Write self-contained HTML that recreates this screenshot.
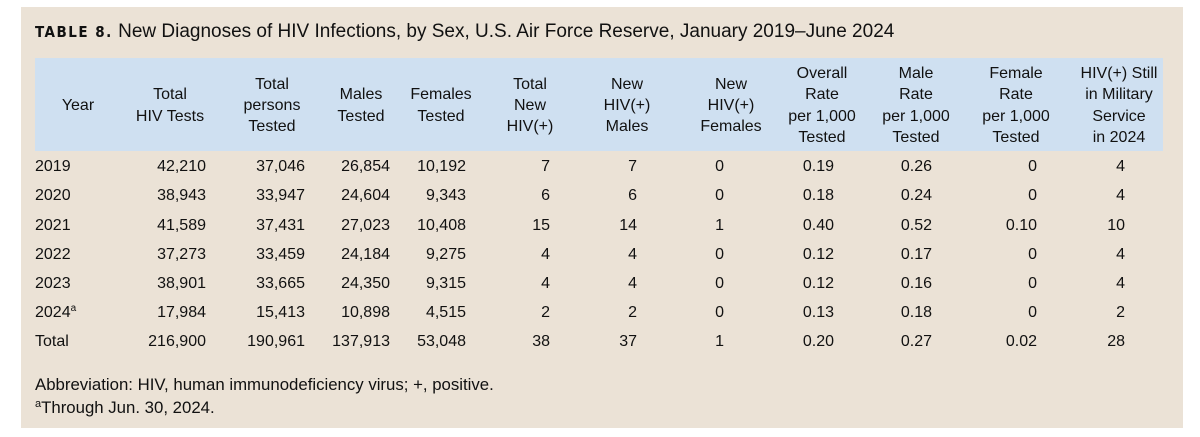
<!DOCTYPE html>
<html><head><meta charset="utf-8"><style>
html,body{margin:0;padding:0;background:#fff;}
svg{display:block;font-family:"Liberation Sans",Arial,sans-serif;}
</style></head><body>
<svg width="1200" height="437" xmlns="http://www.w3.org/2000/svg">
<rect x="21" y="7" width="1162" height="421" fill="#ebe2d6"/>
<rect x="35" y="58" width="1128" height="93" fill="#cfe0f1"/>
<text x="35" y="37" font-size="19" fill="#111"><tspan font-family="'DejaVu Sans Condensed','DejaVu Sans',sans-serif" font-weight="bold" letter-spacing="1.5" font-size="15">TABLE 8.</tspan> New Diagnoses of HIV Infections, by Sex, U.S. Air Force Reserve, January 2019–June 2024</text>
<g font-size="16" fill="#111" text-anchor="middle">
<text x="78" y="110">Year</text>
<text x="170" y="99">Total</text><text x="170" y="121">HIV Tests</text>
<text x="272" y="89">Total</text><text x="272" y="110">persons</text><text x="272" y="131">Tested</text>
<text x="361" y="99">Males</text><text x="361" y="121">Tested</text>
<text x="441" y="99">Females</text><text x="441" y="121">Tested</text>
<text x="530" y="89">Total</text><text x="530" y="110">New</text><text x="530" y="131">HIV(+)</text>
<text x="627" y="89">New</text><text x="627" y="110">HIV(+)</text><text x="627" y="131">Males</text>
<text x="731" y="89">New</text><text x="731" y="110">HIV(+)</text><text x="731" y="131">Females</text>
<text x="822" y="78">Overall</text><text x="822" y="99">Rate</text><text x="822" y="121">per 1,000</text><text x="822" y="142">Tested</text>
<text x="916" y="78">Male</text><text x="916" y="99">Rate</text><text x="916" y="121">per 1,000</text><text x="916" y="142">Tested</text>
<text x="1016" y="78">Female</text><text x="1016" y="99">Rate</text><text x="1016" y="121">per 1,000</text><text x="1016" y="142">Tested</text>
<text x="1119" y="78">HIV(+) Still</text><text x="1119" y="99">in Military</text><text x="1119" y="121">Service</text><text x="1119" y="142">in 2024</text>
</g>
<g font-size="16" fill="#111">
<g text-anchor="start">
<text x="35" y="171">2019</text><text x="35" y="200">2020</text><text x="35" y="230">2021</text><text x="35" y="259">2022</text><text x="35" y="288">2023</text><text x="35" y="317">2024<tspan font-size="10" dy="-6">a</tspan></text><text x="35" y="346">Total</text>
</g>
<g text-anchor="end">
<text x="206" y="171">42,210</text><text x="206" y="200">38,943</text><text x="206" y="230">41,589</text><text x="206" y="259">37,273</text><text x="206" y="288">38,901</text><text x="206" y="317">17,984</text><text x="206" y="346">216,900</text>
<text x="305" y="171">37,046</text><text x="305" y="200">33,947</text><text x="305" y="230">37,431</text><text x="305" y="259">33,459</text><text x="305" y="288">33,665</text><text x="305" y="317">15,413</text><text x="305" y="346">190,961</text>
<text x="390" y="171">26,854</text><text x="390" y="200">24,604</text><text x="390" y="230">27,023</text><text x="390" y="259">24,184</text><text x="390" y="288">24,350</text><text x="390" y="317">10,898</text><text x="390" y="346">137,913</text>
<text x="466" y="171">10,192</text><text x="466" y="200">9,343</text><text x="466" y="230">10,408</text><text x="466" y="259">9,275</text><text x="466" y="288">9,315</text><text x="466" y="317">4,515</text><text x="466" y="346">53,048</text>
<text x="550" y="171">7</text><text x="550" y="200">6</text><text x="550" y="230">15</text><text x="550" y="259">4</text><text x="550" y="288">4</text><text x="550" y="317">2</text><text x="550" y="346">38</text>
<text x="637" y="171">7</text><text x="637" y="200">6</text><text x="637" y="230">14</text><text x="637" y="259">4</text><text x="637" y="288">4</text><text x="637" y="317">2</text><text x="637" y="346">37</text>
<text x="724" y="171">0</text><text x="724" y="200">0</text><text x="724" y="230">1</text><text x="724" y="259">0</text><text x="724" y="288">0</text><text x="724" y="317">0</text><text x="724" y="346">1</text>
<text x="834" y="171">0.19</text><text x="834" y="200">0.18</text><text x="834" y="230">0.40</text><text x="834" y="259">0.12</text><text x="834" y="288">0.12</text><text x="834" y="317">0.13</text><text x="834" y="346">0.20</text>
<text x="932" y="171">0.26</text><text x="932" y="200">0.24</text><text x="932" y="230">0.52</text><text x="932" y="259">0.17</text><text x="932" y="288">0.16</text><text x="932" y="317">0.18</text><text x="932" y="346">0.27</text>
<text x="1037" y="171">0</text><text x="1037" y="200">0</text><text x="1037" y="230">0.10</text><text x="1037" y="259">0</text><text x="1037" y="288">0</text><text x="1037" y="317">0</text><text x="1037" y="346">0.02</text>
<text x="1125" y="171">4</text><text x="1125" y="200">4</text><text x="1125" y="230">10</text><text x="1125" y="259">4</text><text x="1125" y="288">4</text><text x="1125" y="317">2</text><text x="1125" y="346">28</text>
</g>
<text x="35" y="390" font-size="16.8">Abbreviation: HIV, human immunodeficiency virus; +, positive.</text>
<text x="35" y="413" font-size="16.8"><tspan font-size="11" dy="-6">a</tspan><tspan dy="6">Through Jun. 30, 2024.</tspan></text>
</g>
</svg>
</body></html>
